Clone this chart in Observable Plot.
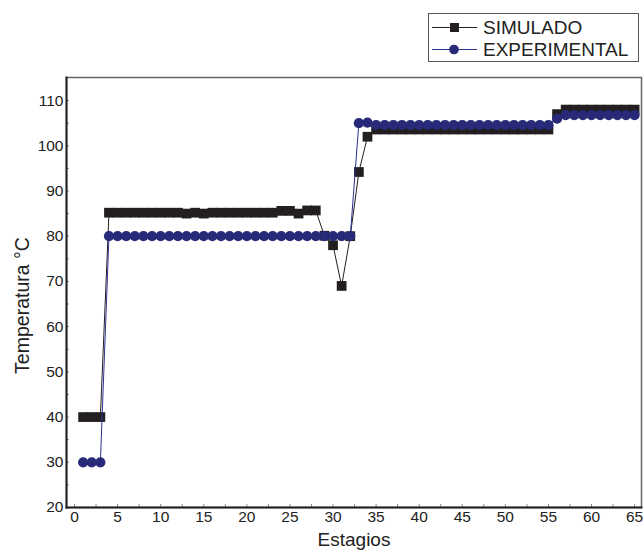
<!DOCTYPE html>
<html>
<head>
<meta charset="utf-8">
<script src="https://cdn.jsdelivr.net/npm/d3@7"></script>
<script src="https://cdn.jsdelivr.net/npm/@observablehq/plot@0.6"></script>
<style>
  html, body { margin: 0; padding: 0; background: #fff; }
  #wrap { position: relative; width: 643px; height: 552px; font-family: "Liberation Sans", Arial, sans-serif; }
  #legend { position: absolute; left: 428px; top: 13px; width: 211px; height: 49px; border: 1px solid #555; box-sizing: border-box; background: #fff; }
  #legend svg { display: block; }
</style>
</head>
<body>
<div id="wrap"><div id="legend"></div></div>
<script>
const stages = [1,2,3,4,5,6,7,8,9,10,11,12,13,14,15,16,17,18,19,20,21,22,23,24,25,26,27,28,29,30,31,32,33,34,35,36,37,38,39,40,41,42,43,44,45,46,47,48,49,50,51,52,53,54,55,56,57,58,59,60,61,62,63,64,65];
const simulado = [40,40,40,
  85.2,85.2,85.2,85.2,85.2,85.2,85.2,85.2,85.2,85.0,85.2,85.0,85.2,85.2,85.2,85.2,85.2,85.2,85.2,85.2,85.6,85.6,85.0,85.7,85.7,
  80.1,78,69,80,94.2,102,
  103.6,103.6,103.6,103.6,103.6,103.6,103.6,103.6,103.6,103.6,103.6,103.6,103.6,103.6,103.6,103.6,103.6,103.6,103.6,103.6,103.6,
  107,108,108,108,108,108,108,108,108,108];
const experimental = [30,30,30,
  80,80,80,80,80,80,80,80,80,80,80,80,80,80,80,80,80,80,80,80,80,80,80,80,80,80,80,80,80,
  105,105.1,
  104.6,104.6,104.6,104.6,104.6,104.6,104.6,104.6,104.6,104.6,104.6,104.6,104.6,104.6,104.6,104.6,104.6,104.6,104.6,104.6,104.6,
  106,106.8,106.8,106.8,106.8,106.8,106.8,106.8,106.8,106.8];
const xTicks = [0,5,10,15,20,25,30,35,40,45,50,55,60,65];
const xMinor = [2.5,7.5,12.5,17.5,22.5,27.5,32.5,37.5,42.5,47.5,52.5,57.5,62.5];
const yTicks = [20,30,40,50,60,70,80,90,100,110];
const yMinor = [25,35,45,55,65,75,85,95,105];
const seriesNames = ["SIMULADO", "EXPERIMENTAL"];
const colors = {SIMULADO: "#231f20", EXPERIMENTAL: "#262a78"};

const sim = stages.map((s, i) => ({stage: s, value: simulado[i]}));
const exp = stages.map((s, i) => ({stage: s, value: experimental[i]}));

const W = 643, H = 552, mt = 77, mb = 45, ml = 66, mr = 2;
const innerH = H - mt - mb, innerW = W - ml - mr;

const chart = Plot.plot({
  width: W, height: H,
  marginTop: mt, marginBottom: mb, marginLeft: ml, marginRight: mr,
  style: {fontFamily: "'Liberation Sans', Arial, sans-serif", background: "#fff", overflow: "visible"},
  x: {domain: [-0.93, 65.8]},
  y: {domain: [20, 115.1]},
  marks: [
    Plot.frame({stroke: "#666", strokeWidth: 1.5}),
    Plot.tickX(xTicks.concat(xMinor), {x: d => d, stroke: "#888", insetTop: innerH - 3}),
    Plot.tickY(yTicks.concat(yMinor), {y: d => d, stroke: "#888", insetRight: innerW - 3}),
    Plot.axisX({ticks: xTicks, tickSize: 0, tickPadding: 3, fontSize: 15.5, color: "#222", label: null}),
    Plot.axisY({ticks: yTicks, tickSize: 0, tickPadding: 3, fontSize: 15.5, color: "#222", label: null}),
    Plot.frame({anchor: "left", stroke: "#222", strokeWidth: 2}),
    Plot.frame({anchor: "bottom", stroke: "#222", strokeWidth: 2}),
    Plot.line(sim, {x: "stage", y: "value", stroke: colors.SIMULADO, strokeWidth: 1}),
    Plot.dot(sim, {x: "stage", y: "value", symbol: "square", r: 5.5, fill: colors.SIMULADO, stroke: "none"}),
    Plot.line(exp, {x: "stage", y: "value", stroke: "#2e3192", strokeWidth: 1}),
    Plot.dot(exp, {x: "stage", y: "value", symbol: "circle", r: 5.1, fill: colors.EXPERIMENTAL, stroke: "none"}),
    Plot.text(["Estagios"], {frameAnchor: "bottom", dy: 38, fontSize: 19, fill: "#222"}),
    Plot.text(["Temperatura °C"], {frameAnchor: "left", textAnchor: "middle", dx: -44, dy: 13, rotate: -90, fontSize: 19.5, fill: "#222"})
  ]
});
document.getElementById("wrap").prepend(chart);

// legend
const lg = d3.select("#legend").append("svg").attr("width", 209).attr("height", 47);
seriesNames.forEach((name, i) => {
  const cy = 13.5 + i * 22;
  const g = lg.append("g");
  g.append("line").attr("x1", 3).attr("x2", 48).attr("y1", cy).attr("y2", cy)
    .attr("stroke", name === "SIMULADO" ? colors.SIMULADO : "#2e3192").attr("stroke-width", 1);
  if (name === "SIMULADO") {
    g.append("rect").attr("x", 21).attr("y", cy - 4.5).attr("width", 9).attr("height", 9).attr("fill", colors.SIMULADO);
  } else {
    g.append("circle").attr("cx", 25).attr("cy", cy).attr("r", 4.8).attr("fill", colors.EXPERIMENTAL);
  }
  g.append("text").attr("x", 54).attr("y", cy).attr("dy", "0.35em")
    .attr("font-size", 19).attr("fill", "#222").attr("font-family", "'Liberation Sans', Arial, sans-serif").text(name);
});
</script>
</body>
</html>
